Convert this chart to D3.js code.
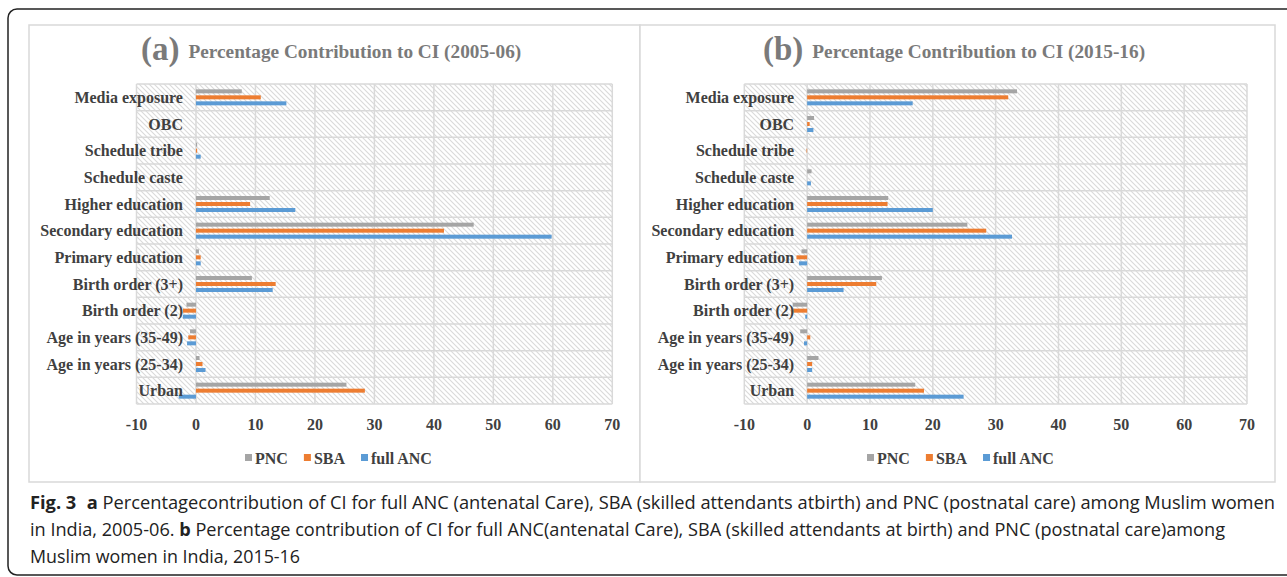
<!DOCTYPE html>
<html><head><meta charset="utf-8">
<script src="https://cdn.jsdelivr.net/npm/d3@7"></script>
<style>
html,body{margin:0;padding:0;background:#fff;}
svg{display:block;}
</style></head>
<body>
<svg id="chart" width="1287" height="577"></svg>
<script>
const categories = ["Media exposure","OBC","Schedule tribe","Schedule caste","Higher education","Secondary education","Primary education","Birth order (3+)","Birth order (2)","Age in years (35-49)","Age in years (25-34)","Urban"];
const seriesNames = ["PNC","SBA","full ANC"];
const seriesColors = ["#a5a5a5","#ed7d31","#5b9bd5"];
const xTicks = [-10,0,10,20,30,40,50,60,70];

// Panel (a) 2005-06
const pncA = [7.7, 0, 0.2, 0, 12.4, 46.7, 0.5, 9.4, -1.6, -1.0, 0.6, 25.3];
const sbaA = [10.9, 0, 0.2, 0, 9.1, 41.7, 0.8, 13.4, -2.2, -1.3, 1.1, 28.4];
const ancA = [15.2, 0, 0.8, 0, 16.7, 59.8, 0.8, 12.9, -2.2, -1.5, 1.6, -2.9];
// Panel (b) 2015-16
const pncB = [33.4, 1.1, 0, 0.7, 12.9, 25.5, -0.9, 11.9, -2.3, -1.1, 1.8, 17.2];
const sbaB = [32.0, 0.4, -0.1, 0, 12.8, 28.5, -1.7, 11.0, -2.2, 0.5, 0.8, 18.6];
const ancB = [16.8, 1.0, 0, 0.6, 20.0, 32.6, -1.3, 5.8, -0.3, -0.5, 0.8, 24.9];

const svg = d3.select("#chart");
const serif = "'Liberation Serif','Times New Roman',serif";

// pattern
const defs = svg.append("defs");
const pat = defs.append("pattern").attr("id","hatch").attr("patternUnits","userSpaceOnUse")
  .attr("width",5).attr("height",5);
pat.append("rect").attr("width",5).attr("height",5).attr("fill","#fff");
pat.append("path").attr("d","M0,0 L5,5 M-1,4 L1,6 M4,-1 L6,1")
  .attr("stroke","#dadada").attr("stroke-width",1.1);

// outer frame
svg.append("rect").attr("x",8).attr("y",9).attr("width",1320).attr("height",566)
  .attr("rx",9).attr("fill","none").attr("stroke","#222").attr("stroke-width",1.5);

const panels = [
  {label:"(a)", title:"Percentage Contribution to CI (2005-06)", data:[pncA,sbaA,ancA],
   box:[29,25,640,482], xr:[136.5,612.3], titleX:141, legendX:245},
  {label:"(b)", title:"Percentage Contribution to CI (2015-16)", data:[pncB,sbaB,ancB],
   box:[640,25,1275,482], xr:[744.3,1247], titleX:763, legendX:867}
];

panels.forEach(p => {
  const g = svg.append("g");
  g.append("rect").attr("x",p.box[0]).attr("y",p.box[1]).attr("width",p.box[2]-p.box[0])
    .attr("height",p.box[3]-p.box[1]).attr("fill","#fff").attr("stroke","#d9d9d9").attr("stroke-width",1.5);

  const x = d3.scaleLinear().domain([-10,70]).range(p.xr);
  const y = d3.scaleBand().domain(categories).range([84,404]);
  const sub = d3.scaleBand().domain(seriesNames).range([5.33, y.bandwidth()-5.33]).paddingInner(1/3).paddingOuter(0);

  // title
  const t = g.append("text").attr("x",p.titleX).attr("y",60).attr("font-family",serif)
    .attr("font-weight","bold").attr("fill","#7a7a7a");
  t.append("tspan").attr("font-size",33).text(p.label);
  t.append("tspan").attr("font-size",19.3).attr("dx",9).attr("dy",-2).text(p.title);

  // plot background
  g.append("rect").attr("x",x(-10)).attr("y",84).attr("width",x(70)-x(-10)).attr("height",320)
    .attr("fill","url(#hatch)");
  // grid
  g.selectAll(".vg").data(xTicks).enter().append("line")
    .attr("x1",d=>x(d)).attr("x2",d=>x(d)).attr("y1",84).attr("y2",404)
    .attr("stroke","#d9d9d9").attr("stroke-width",1.5);
  const hb = categories.map(c=>y(c)).concat([404]);
  g.selectAll(".hg").data(hb).enter().append("line")
    .attr("x1",x(-10)).attr("x2",x(70)).attr("y1",d=>d).attr("y2",d=>d)
    .attr("stroke","#d9d9d9").attr("stroke-width",1.5);

  // bars
  seriesNames.forEach((s,si) => {
    g.selectAll(".bar"+si).data(p.data[si]).enter().append("rect")
      .attr("x",d=>x(Math.min(0,d))).attr("width",d=>Math.abs(x(d)-x(0)))
      .attr("y",(d,i)=>y(categories[i])+sub(s)).attr("height",sub.bandwidth())
      .attr("fill",seriesColors[si]);
  });

  // category labels
  g.selectAll(".cl").data(categories).enter().append("text")
    .attr("x",x(0)-13).attr("y",d=>y(d)+y.bandwidth()/2).attr("dy","0.35em")
    .attr("text-anchor","end").attr("font-family",serif).attr("font-weight","bold")
    .attr("font-size",16).attr("fill","#404040").text(d=>d);

  // x tick labels
  g.selectAll(".tl").data(xTicks).enter().append("text")
    .attr("x",d=>x(d)).attr("y",424).attr("dy","0.35em").attr("text-anchor","middle")
    .attr("font-family",serif).attr("font-weight","bold").attr("font-size",16)
    .attr("fill","#404040").text(d=>d);

  // legend
  const lg = g.append("g").attr("transform",`translate(${p.legendX},458)`);
  let off = 0;
  seriesNames.forEach((s,si)=>{
    lg.append("rect").attr("x",off).attr("y",-4).attr("width",7).attr("height",7).attr("fill",seriesColors[si]);
    const tx = lg.append("text").attr("x",off+10).attr("y",0).attr("dy","0.35em")
      .attr("font-family",serif).attr("font-weight","bold").attr("font-size",16)
      .attr("fill","#404040").text(s);
    off += 10 + tx.node().getComputedTextLength() + 16;
  });
});

// caption
const sans = "'Open Sans','Noto Sans',sans-serif";
const cap = svg.append("g").attr("font-family",sans).attr("font-size",17.5).attr("fill","#222");
const l1 = cap.append("text").attr("x",30).attr("y",509).attr("textLength",1245).attr("lengthAdjust","spacingAndGlyphs");
l1.append("tspan").attr("font-weight","bold").text("Fig. 3");
l1.append("tspan").attr("font-weight","bold").attr("dx",10).text("a");
l1.append("tspan").text(" Percentagecontribution of CI for full ANC (antenatal Care), SBA (skilled attendants atbirth) and PNC (postnatal care) among Muslim women");
const l2 = cap.append("text").attr("x",30).attr("y",536).attr("textLength",1195).attr("lengthAdjust","spacingAndGlyphs");
l2.append("tspan").text("in India, 2005-06. ");
l2.append("tspan").attr("font-weight","bold").text("b");
l2.append("tspan").text(" Percentage contribution of CI for full ANC(antenatal Care), SBA (skilled attendants at birth) and PNC (postnatal care)among");
cap.append("text").attr("x",30).attr("y",563).attr("textLength",270).attr("lengthAdjust","spacingAndGlyphs").text("Muslim women in India, 2015-16");
</script>
</body></html>
